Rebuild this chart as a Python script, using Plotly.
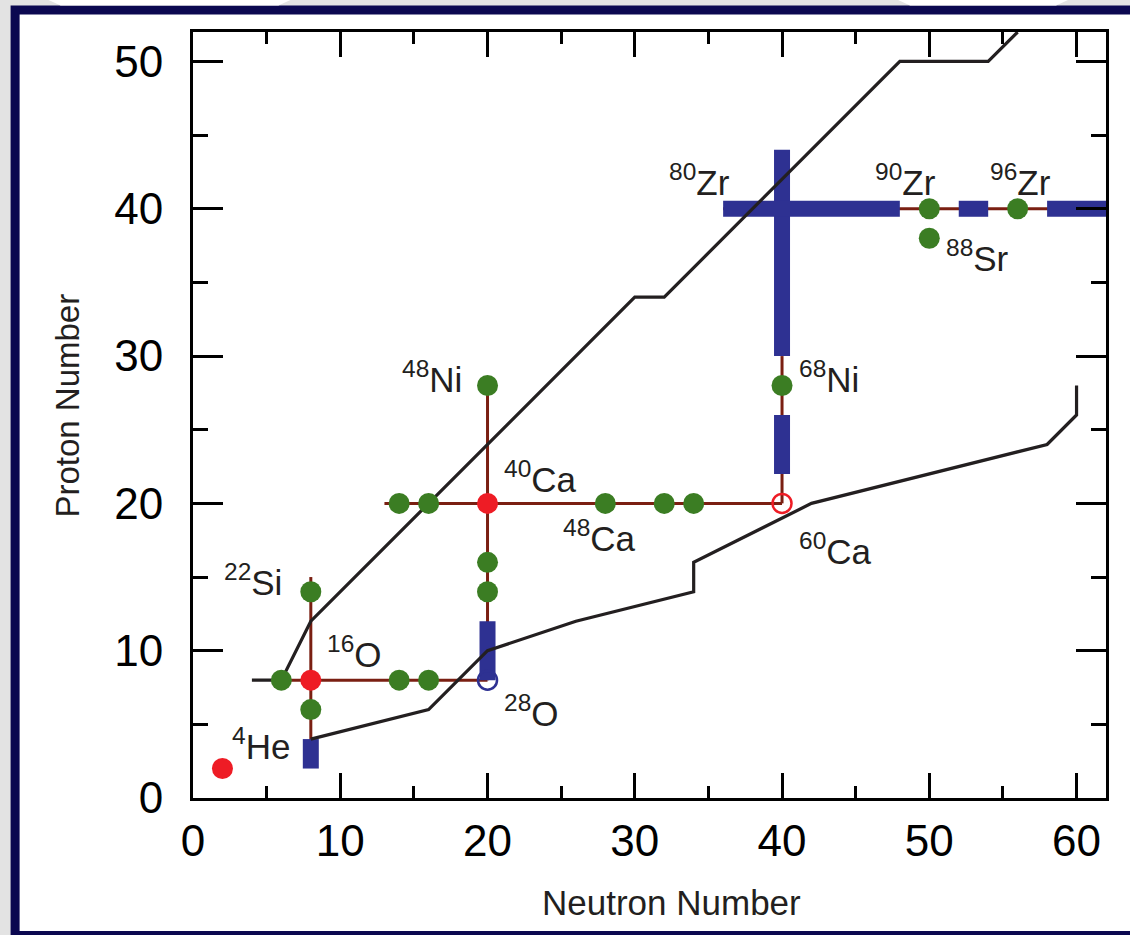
import plotly.graph_objects as go

# ---------------- data ----------------
# drip lines (N, Z)
proton_drip_N = [4, 6, 8, 30, 32, 48, 54, 56]
proton_drip_Z = [8, 8, 12, 34, 34, 50, 50, 52]
neutron_drip_N = [8, 16, 20, 26, 34, 34, 42, 58, 60, 60]
neutron_drip_Z = [4, 6, 10, 12, 14, 16, 20, 24, 26, 28]

# magic-number lines (segments: N pairs, Z pairs)
magic_N = [[6, 20], [8, 8], [13, 40], [20, 20], [40, 40], [36, 62]]
magic_Z = [[8, 8], [3, 15], [20, 20], [8, 28], [20, 30], [40, 40]]

# blue bars (segments)
bar_N = [[8, 8], [20, 20], [40, 40], [40, 40], [36, 48], [52, 54], [58, 62]]
bar_Z = [[2, 4], [8, 12], [22, 26], [30, 44], [40, 40], [40, 40], [40, 40]]

# nuclei
green_N = [6, 14, 16, 8, 8, 20, 20, 20, 14, 16, 28, 32, 34, 40, 50, 56, 50]
green_Z = [8, 8, 8, 14, 6, 14, 16, 28, 20, 20, 20, 20, 20, 28, 40, 40, 38]
red_N = [2, 8, 20]
red_Z = [2, 8, 20]
open_blue_N = [20]
open_blue_Z = [8]
open_red_N = [40]
open_red_Z = [20]

# labels
label_mass = ["80", "90", "96", "88", "68", "48", "40", "48", "60", "22", "16", "28", "4"]
label_elem = ["Zr", "Zr", "Zr", "Sr", "Ni", "Ni", "Ca", "Ca", "Ca", "Si", "O", "O", "He"]
label_N = [34.4, 48.4, 56.2, 53.3, 43.2, 16.2, 23.6, 27.6, 43.6, 4.1, 11.0, 23.0, 4.65]
label_Z = [41.95, 41.95, 41.95, 36.8, 28.6, 28.6, 21.8, 17.8, 16.9, 14.8, 9.9, 5.9, 3.7]

x_ticks = [0, 10, 20, 30, 40, 50, 60]
y_ticks = [0, 10, 20, 30, 40, 50]

# ---------------- styles ----------------
FONT = "Liberation Sans, Arial, Helvetica, sans-serif"
BROWN = "#7A1F12"
BLUE = "#2E3192"
GREEN = "#3B7D23"
RED = "#EE1C25"
BLACK = "#231F20"
NAVY = "#0B0850"


def segs(xs, ys):
    X, Y = [], []
    for a, b in zip(xs, ys):
        X += list(a) + [None]
        Y += list(b) + [None]
    return X, Y


fig = go.Figure()

mx, my = segs(magic_N, magic_Z)
fig.add_trace(go.Scatter(x=mx, y=my, mode="lines",
                         line=dict(color=BROWN, width=3), hoverinfo="skip"))

bx, by = segs(bar_N, bar_Z)
fig.add_trace(go.Scatter(x=bx, y=by, mode="lines",
                         line=dict(color=BLUE, width=16), hoverinfo="skip"))

fig.add_trace(go.Scatter(x=proton_drip_N, y=proton_drip_Z, mode="lines",
                         line=dict(color=BLACK, width=3.2)))
fig.add_trace(go.Scatter(x=neutron_drip_N, y=neutron_drip_Z, mode="lines",
                         line=dict(color=BLACK, width=3.2)))

fig.add_trace(go.Scatter(x=green_N, y=green_Z, mode="markers",
                         marker=dict(color=GREEN, size=21, line=dict(width=0))))
fig.add_trace(go.Scatter(x=red_N, y=red_Z, mode="markers",
                         marker=dict(color=RED, size=21, line=dict(width=0))))
fig.add_trace(go.Scatter(x=open_blue_N, y=open_blue_Z, mode="markers",
                         marker=dict(symbol="circle-open", color=BLUE, size=19,
                                     line=dict(width=2.5, color=BLUE))))
fig.add_trace(go.Scatter(x=open_red_N, y=open_red_Z, mode="markers",
                         marker=dict(symbol="circle-open", color=RED, size=19,
                                     line=dict(width=2.5, color=RED))))

for m, e, xn, yz in zip(label_mass, label_elem, label_N, label_Z):
    fig.add_annotation(x=xn, y=yz, xref="x", yref="y",
                       text=f"<sup>{m}</sup>{e}", showarrow=False,
                       xanchor="center", yanchor="middle",
                       font=dict(family=FONT, size=35, color=BLACK))

L, R, T, B = 192.5, 24, 32, 137
W, H = 1130, 935
pw, ph = W - L - R, H - T - B


def px(xp):
    return (xp - L) / pw


def py(yp):
    return (H - B - yp) / ph


# frame: white panel with navy border
fig.add_shape(type="rect", xref="paper", yref="paper", layer="below",
              x0=px(14.5), x1=px(1145), y0=py(935.5), y1=py(10),
              fillcolor="white", line=dict(color=NAVY, width=9))
# decorative white stripes in grey margin
for xa, xb in [(48, 290), (898, 1068)]:
    fig.add_shape(type="path", xref="paper", yref="paper", layer="below",
                  path=f"M {px(xa)},{py(0)} L {px(xb)},{py(0)} L {px(xb - 12)},{py(5.5)} L {px(xa + 12)},{py(5.5)} Z",
                  fillcolor="white", line=dict(width=0))

fig.add_annotation(x=px(671), y=py(902), xref="paper", yref="paper",
                   text="Neutron Number", showarrow=False,
                   xanchor="center", yanchor="middle",
                   font=dict(family=FONT, size=35, color=BLACK))
fig.add_annotation(x=px(66), y=py(406), xref="paper", yref="paper",
                   text="Proton Number", showarrow=False, textangle=-90,
                   xanchor="center", yanchor="middle",
                   font=dict(family=FONT, size=33, color=BLACK))

axis_common = dict(showline=True, linecolor="black", linewidth=3, mirror="ticks",
                   ticks="inside", tickwidth=3, tickcolor="black",
                   showgrid=False, zeroline=False,
                   tickfont=dict(family=FONT, size=44, color="black"))

fig.update_xaxes(range=[0, 62], tickvals=x_ticks, ticklen=25,
                 minor=dict(dtick=5, tick0=0, ticks="inside", ticklen=12,
                            tickwidth=3, tickcolor="black", showgrid=False),
                 ticklabelstandoff=2, **axis_common)
fig.update_yaxes(range=[0, 52], tickvals=y_ticks, ticklen=30,
                 minor=dict(dtick=5, tick0=0, ticks="inside", ticklen=15,
                            tickwidth=3, tickcolor="black", showgrid=False),
                 ticklabelstandoff=18, **axis_common)

fig.update_layout(width=W, height=H, showlegend=False,
                  margin=dict(l=L, r=R, t=T, b=B, pad=0),
                  paper_bgcolor="#E3E3E3", plot_bgcolor="rgba(0,0,0,0)",
                  font=dict(family=FONT, color="black"))

fig.write_html("out.html", config={"displayModeBar": False},
               post_script="document.body.style.margin='0';document.body.style.padding='0';")
